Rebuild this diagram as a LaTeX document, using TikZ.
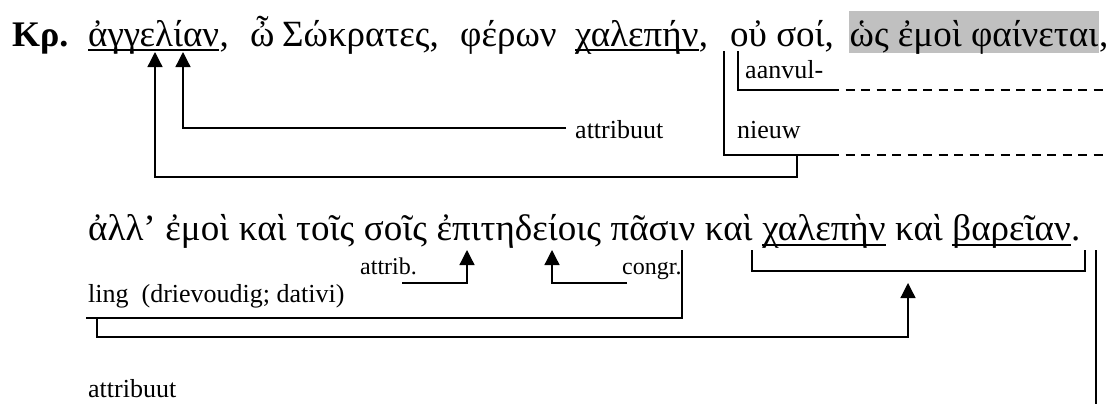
\documentclass[tikz,border=0pt]{standalone}
\usepackage{fontspec}
\setmainfont{Liberation Serif}
\usetikzlibrary{arrows.meta}
\definecolor{hl}{RGB}{192,192,192}
\begin{document}
\begin{tikzpicture}[x=1pt,y=-1pt,
  gk/.style={font=\fontsize{37pt}{41pt}\selectfont, inner sep=0pt, anchor=base west},
  gkb/.style={font=\fontsize{36pt}{40pt}\selectfont\bfseries, inner sep=0pt, anchor=base west},
  lbl/.style={font=\fontsize{26pt}{30pt}\selectfont, inner sep=0pt, anchor=base west},
  sm/.style={font=\fontsize{24pt}{28pt}\selectfont, inner sep=0pt, anchor=base west},
  conn/.style={line width=1.3pt},
  arr/.style={conn, -{Triangle[width=15pt,length=15pt]}},
  dsh/.style={line width=1.3pt, dash pattern=on 9pt off 6.5pt},
  ul/.style={line width=1.5pt}]
\useasboundingbox (0,0) rectangle (1116,408);

% ---------- line 1 ----------
\node[gkb] (kr) at (12,46) {Κρ.};
\node[gk] (w1) at (88,46) {ἀγγελίαν};
\node[gk] (c1) at (w1.base east) {,};
\node[gk] (w2) at (250,46) {ὦ};
\node[gk] (w3) at (282,46) {Σώκρατες,};
\node[gk] (w4) at (460,46) {φέρων};
\node[gk] (w5) at (575,46) {χαλεπήν};
\node[gk] (c5) at (w5.base east) {,};
\node[gk] (w6) at (730,46) {οὐ σοί,};
\node[gk, fill=hl, text height=35pt, text depth=7pt, inner xsep=0.5pt] (w7) at (849,46) {ὡς ἐμοὶ φαίνεται};
\node[gk] (c7) at (w7.base east) {,};

\draw[ul] ([yshift=-4pt]w1.base west) -- ([yshift=-4pt]w1.base east);
\draw[ul] ([yshift=-4pt]w5.base west) -- ([yshift=-4pt]w5.base east);

\node[lbl] (a1) at (575,138) {attribuut};
\node[lbl] (nw) at (737,138) {nieuw};
\node[lbl] (av) at (745,78) {aanvul-};

\coordinate (t1) at (183,52);
\coordinate (t2) at (155,52);
\coordinate (a1e) at (566,128);
\coordinate (j) at (797,155);
\coordinate (jb) at (797,177);
\coordinate (o1) at (724,51);
\coordinate (o2) at (830,155);
\coordinate (o3) at (1105,155);
\coordinate (i1) at (738,51);
\coordinate (i2) at (830,90);
\coordinate (i3) at (1105,90);

\draw[arr] (a1e) -| (t1);
\draw[arr] (j) -- (jb) -| (t2);
\draw[conn] (o1) |- (o2);
\draw[dsh] (o2) -- (o3);
\draw[conn] (i1) |- (i2);
\draw[dsh] (i2) -- (i3);

% ---------- line 2 ----------
\node[gk] (v1) at (88,240) {ἀλλ’};
\node[gk] (v2) at ([xshift=9.25pt]v1.base east) {ἐμοὶ};
\node[gk] (v3) at ([xshift=9.25pt]v2.base east) {καὶ};
\node[gk] (v4) at ([xshift=9.25pt]v3.base east) {τοῖς};
\node[gk] (v5) at ([xshift=9.25pt]v4.base east) {σοῖς};
\node[gk] (v6) at ([xshift=9.25pt]v5.base east) {ἐπιτηδείοις};
\node[gk] (v7) at ([xshift=9.25pt]v6.base east) {πᾶσιν};
\node[gk] (v8) at ([xshift=9.25pt]v7.base east) {καὶ};
\node[gk] (v9) at ([xshift=9.25pt]v8.base east) {χαλεπὴν};
\node[gk] (v10) at ([xshift=9.25pt]v9.base east) {καὶ};
\node[gk] (v11) at ([xshift=9.25pt]v10.base east) {βαρεῖαν};
\node[gk] (v12) at (v11.base east) {.};

\draw[ul] ([yshift=-5pt]v9.base west) -- ([yshift=-5pt]v9.base east);
\draw[ul] ([yshift=-5pt]v11.base west) -- ([yshift=-5pt]v11.base east);

\node[sm] (atb) at (360,274) {attrib.};
\node[sm] (cg) at (622,274) {congr.};
\node[lbl] (lg) at (88,302) {ling~ (drievoudig; dativi)};
\node[lbl] (at2) at (88,397) {attribuut};

\coordinate (p1) at (402,283);
\coordinate (p1t) at (467,250);
\coordinate (p2) at (627,283);
\coordinate (p2t) at (552,250);
\coordinate (q1) at (682,250);
\coordinate (q2) at (86,318);
\coordinate (r1) at (97,318);
\coordinate (r2) at (97,337);
\coordinate (r3) at (908,283);
\coordinate (b1) at (752,250);
\coordinate (b2) at (1085,271);
\coordinate (b3) at (1085,250);
\coordinate (s1) at (1096,250);
\coordinate (s2) at (1096,404);

\draw[arr] (p1) -| (p1t);
\draw[arr] (p2) -| (p2t);
\draw[conn] (q1) |- (q2);
\draw[arr] (r1) -- (r2) -| (r3);
\draw[conn] (b1) |- (b2) -- (b3);
\draw[conn] (s1) -- (s2);
\end{tikzpicture}
\end{document}
